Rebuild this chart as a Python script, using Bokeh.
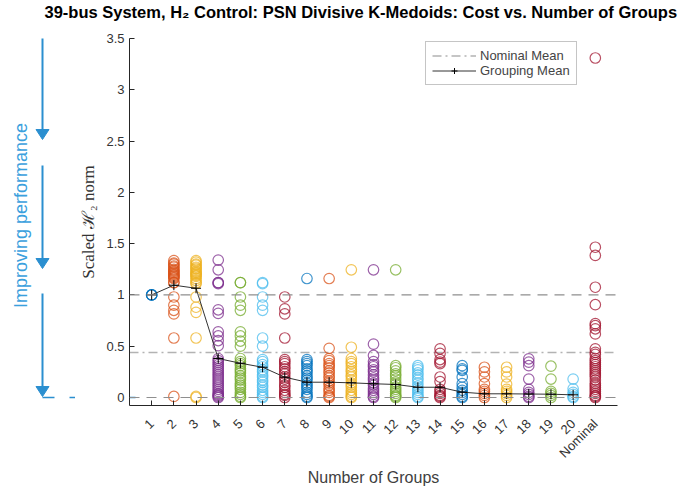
import numpy as np
from bokeh.plotting import figure
from bokeh.layouts import column, row
from bokeh.models import Range1d, FixedTicker, Span, Legend, LegendItem, ColumnDataSource
from bokeh.core.properties import value
from bokeh.embed import file_html
from bokeh.resources import INLINE

# Scaled H2 cost of every grouping, per number of groups
cost_k1 = [1.0, 1.0, 1.0]
cost_k2 = [1.335, 1.31, 1.30, 1.28, 1.27, 1.25, 1.24, 1.23, 1.22, 1.21, 1.20, 1.19,
           1.18, 1.17, 1.16, 1.12, 1.12, 0.98, 0.90, 0.85, 0.815, 0.58, 0.01]
cost_k3 = [1.335, 1.32, 1.30, 1.29, 1.27, 1.26, 1.25, 1.23, 1.22, 1.21, 1.20, 1.19,
           1.18, 1.16, 1.14, 1.12, 1.11, 0.98, 0.88, 0.83, 0.58, 0.01, 0.0]
cost_k4 = [1.34, 1.245, 1.12, 1.12, 1.11, 0.855, 0.82, 0.64, 0.60, 0.555, 0.505,
           0.38, 0.36, 0.34, 0.32, 0.30, 0.28, 0.26, 0.24, 0.22, 0.20, 0.18, 0.16,
           0.14, 0.12, 0.10, 0.08, 0.06, 0.04, 0.03, 0.02, 0.01, 0.0]
cost_k5 = [1.12, 1.12, 0.98, 0.90, 0.85, 0.64, 0.60, 0.55, 0.50,
           0.38, 0.35, 0.33, 0.31, 0.28, 0.26, 0.24, 0.21, 0.19, 0.17, 0.14, 0.12,
           0.10, 0.08, 0.05, 0.03, 0.01, 0.0]
cost_k6 = [1.12, 1.11, 0.98, 0.90, 0.85, 0.58, 0.50,
           0.37, 0.35, 0.32, 0.30, 0.27, 0.25, 0.22, 0.20, 0.17, 0.15, 0.12, 0.10,
           0.07, 0.05, 0.03, 0.01, 0.0]
cost_k7 = [0.98, 0.865, 0.815, 0.58,
           0.37, 0.35, 0.33, 0.30, 0.28, 0.25, 0.23, 0.20, 0.18, 0.15, 0.12, 0.10,
           0.07, 0.05, 0.03, 0.02, 0.0]
cost_k8 = [1.16, 0.37, 0.35, 0.33, 0.31, 0.28, 0.26, 0.24, 0.21, 0.19, 0.17, 0.14,
           0.12, 0.10, 0.08, 0.05, 0.03, 0.01, 0.0]
cost_k9 = [1.16, 0.48, 0.38, 0.36, 0.33, 0.31, 0.29, 0.26, 0.24, 0.21, 0.19, 0.16,
           0.14, 0.12, 0.09, 0.07, 0.05, 0.02, 0.01, 0.0]
cost_k10 = [1.245, 0.49, 0.38, 0.35, 0.33, 0.30, 0.27, 0.25, 0.22, 0.20, 0.17, 0.14,
            0.12, 0.10, 0.07, 0.05, 0.03, 0.01, 0.0]
cost_k11 = [1.245, 0.52, 0.41, 0.35, 0.32, 0.30, 0.27, 0.25, 0.22, 0.19, 0.17, 0.14,
            0.12, 0.09, 0.07, 0.05, 0.03, 0.01, 0.0]
cost_k12 = [1.245, 0.31, 0.29, 0.26, 0.23, 0.21, 0.18, 0.15, 0.13, 0.10, 0.08, 0.06,
            0.04, 0.02, 0.01, 0.0]
cost_k13 = [0.31, 0.29, 0.27, 0.24, 0.22, 0.19, 0.17, 0.14, 0.11, 0.09, 0.07, 0.05,
            0.03, 0.01, 0.0]
cost_k14 = [0.475, 0.43, 0.37, 0.345, 0.33, 0.20, 0.155, 0.08, 0.06, 0.04, 0.02,
            0.01, 0.0]
cost_k15 = [0.31, 0.28, 0.265, 0.20, 0.135, 0.10, 0.07, 0.05, 0.03, 0.01, 0.0]
cost_k16 = [0.295, 0.25, 0.20, 0.135, 0.08, 0.06, 0.04, 0.02, 0.0]
cost_k17 = [0.295, 0.25, 0.20, 0.13, 0.08, 0.06, 0.04, 0.02, 0.0]
cost_k18 = [0.377, 0.345, 0.31, 0.18, 0.08, 0.05, 0.03, 0.01, 0.0]
cost_k19 = [0.305, 0.18, 0.06, 0.04, 0.02, 0.0]
cost_k20 = [0.18, 0.085, 0.05, 0.03, 0.01, 0.0]
cost_nominal = [3.31, 1.465, 1.385, 1.075, 0.905, 0.72, 0.70, 0.67, 0.62, 0.475,
                0.44, 0.42, 0.38, 0.36, 0.34, 0.32, 0.30, 0.28, 0.26, 0.24, 0.22,
                0.20, 0.17, 0.14, 0.12, 0.10, 0.08, 0.06, 0.04, 0.02, 0.01, 0.0]

group_counts = list(range(1, 21))
grouping_mean = [1.0, 1.095, 1.065, 0.38, 0.334, 0.295, 0.198, 0.149, 0.149, 0.143,
                 0.134, 0.127, 0.10, 0.10, 0.052, 0.036, 0.036, 0.034, 0.032, 0.026]
nominal_mean = 0.44
tick_labels = [str(k) for k in group_counts] + ["Nominal"]

all_costs = [cost_k1, cost_k2, cost_k3, cost_k4, cost_k5, cost_k6, cost_k7, cost_k8,
             cost_k9, cost_k10, cost_k11, cost_k12, cost_k13, cost_k14, cost_k15,
             cost_k16, cost_k17, cost_k18, cost_k19, cost_k20, cost_nominal]

palette = ["#0072BD", "#D95319", "#EDB120", "#7E2F8E", "#77AC30", "#4DBEEE", "#A2142F"]

xs, ys, cs = [], [], []
for i, vals in enumerate(all_costs):
    xs += [i + 1] * len(vals)
    ys += vals
    cs += [palette[i % len(palette)]] * len(vals)
src = ColumnDataSource(dict(x=xs, y=ys, color=cs))

FONT = "Liberation Sans"
AX = "#262626"
BLUE = "#2b8fd0"

# page layout (pixels)
W, H = 694, 489
TITLE_H = 30
SIDE_W = 75                 # strip holding the "improving performance" note
FRAME_L, FRAME_R = 129, 617
FRAME_T, FRAME_B = 38, 405
X_LO, X_HI = 0, 22
Y_LO, Y_HI = -0.078, 3.5

# ---- title strip ---------------------------------------------------------
head = figure(width=W, height=TITLE_H, output_backend="svg", toolbar_location=None,
              x_axis_location=None, y_axis_location=None,
              min_border_left=0, min_border_right=0, min_border_top=2,
              min_border_bottom=0)
head.outline_line_color = None
head.grid.visible = False
head.title.text = "39-bus System, H\u2082 Control: PSN Divisive K-Medoids: Cost vs. Number of Groups"
head.title.text_font = FONT
head.title.text_font_size = "16.5px"
head.title.text_font_style = "bold"
head.title.text_color = "black"
head.title.align = "left"
head.title.offset = 44
head.title.standoff = 0

# ---- side note: arrows pointing down to better cost ----------------------
side = figure(width=SIDE_W, height=H - TITLE_H, output_backend="svg",
              toolbar_location=None, x_axis_location=None, y_axis_location=None,
              x_range=Range1d(0, SIDE_W), y_range=Range1d(FRAME_B, FRAME_T),
              min_border_left=0, min_border_right=0,
              min_border_top=FRAME_T - TITLE_H, min_border_bottom=H - FRAME_B)
side.outline_line_color = None
side.grid.visible = False

arrow_x = 42
arrow_top = [35, 165, 293]
arrow_base = [129, 258, 386]
head_len, head_half = 10, 6.5
side.segment(x0=[arrow_x] * 3, y0=arrow_top, x1=[arrow_x] * 3, y1=arrow_base,
             line_color=BLUE, line_width=2)
side.patches(xs=[[arrow_x - head_half, arrow_x + head_half, arrow_x]] * 3,
             ys=[[b, b, b + head_len] for b in arrow_base],
             fill_color=BLUE, line_color=BLUE, line_width=1)
zero_px = 397
side.segment(x0=[arrow_x], y0=[zero_px], x1=[SIDE_W], y1=[zero_px],
             line_color=BLUE, line_width=1.3, line_dash="12 15")
side.text(x=[20], y=[215], text=["Improving performance"], angle=np.pi / 2,
          text_align="center", text_baseline="middle", text_font=value(FONT),
          text_font_size="18px", text_color="#3aa0dd")

# ---- main chart ----------------------------------------------------------
p = figure(width=W - SIDE_W, height=H - TITLE_H, output_backend="svg",
           toolbar_location=None,
           x_range=Range1d(X_LO, X_HI), y_range=Range1d(Y_LO, Y_HI),
           min_border_left=FRAME_L - SIDE_W, min_border_right=W - FRAME_R,
           min_border_top=FRAME_T - TITLE_H, min_border_bottom=H - FRAME_B)
p.outline_line_color = None
p.grid.visible = False

# reference levels
for lvl in (0.0, 1.0):
    p.add_layout(Span(location=lvl, dimension="width", line_color="#8f8f8f",
                      line_dash="10 7", line_width=1.2))
nom = p.hspan(y=[nominal_mean], line_color="#b3b3b3", line_dash="9 4 2 4",
              line_width=1.6)

# tail of the blue zero guide where it meets the axis
px_per_x = (FRAME_R - FRAME_L) / (X_HI - X_LO)
p.segment(x0=[X_LO], y0=[0], x1=[X_LO + 6 / px_per_x], y1=[0],
          line_color=BLUE, line_width=1.3)

p.scatter("x", "y", source=src, marker="circle", size=10.5, fill_color=None,
          line_color="color", line_alpha=0.75, line_width=1.2)

mline = p.line(group_counts, grouping_mean, line_color="#333333", line_width=1)
mcross = p.scatter(group_counts, grouping_mean, marker="cross", size=10,
                   line_color="black", line_width=1)

# axes
p.xaxis.ticker = FixedTicker(ticks=list(range(1, 22)))
p.xaxis.major_label_overrides = {i + 1: t for i, t in enumerate(tick_labels)}
p.xaxis.major_label_orientation = np.pi / 4
p.xaxis.major_label_standoff = 16
p.yaxis.ticker = FixedTicker(ticks=[0, 0.5, 1, 1.5, 2, 2.5, 3, 3.5])
p.yaxis.major_label_overrides = {0: "0", 0.5: "0.5", 1: "1", 1.5: "1.5", 2: "2",
                                 2.5: "2.5", 3: "3", 3.5: "3.5"}
for ax in (p.xaxis[0], p.yaxis[0]):
    ax.axis_line_color = AX
    ax.major_tick_line_color = AX
    ax.major_tick_in = 5
    ax.major_tick_out = 0
    ax.minor_tick_line_color = None
    ax.major_label_text_font = FONT
    ax.major_label_text_font_size = "13px"
    ax.major_label_text_color = "#333333"
p.xaxis.axis_label = "Number of Groups"
p.xaxis.axis_label_text_font = FONT
p.xaxis.axis_label_text_font_size = "16px"
p.xaxis.axis_label_text_font_style = "normal"
p.xaxis.axis_label_text_color = "#404040"
p.xaxis.axis_label_standoff = 0
p.yaxis.axis_label = "Scaled \u210b\u2082 norm"
p.yaxis.axis_label_text_font = "Liberation Serif"
p.yaxis.axis_label_text_font_size = "17px"
p.yaxis.axis_label_text_font_style = "normal"
p.yaxis.axis_label_text_color = "#333333"

# legend
legend = Legend(items=[LegendItem(label="Nominal Mean", renderers=[nom]),
                       LegendItem(label="Grouping Mean", renderers=[mline, mcross])],
                location=(296, 320), margin=0, padding=6, spacing=0,
                glyph_width=44, glyph_height=15, label_height=15, label_standoff=4,
                label_text_font=FONT, label_text_font_size="13px",
                border_line_color="#8c8c8c", border_line_width=1,
                background_fill_alpha=1)
p.add_layout(legend)

page = column(head, row(side, p, spacing=0), spacing=0)
open("out.html", "w").write(file_html(page, INLINE))
